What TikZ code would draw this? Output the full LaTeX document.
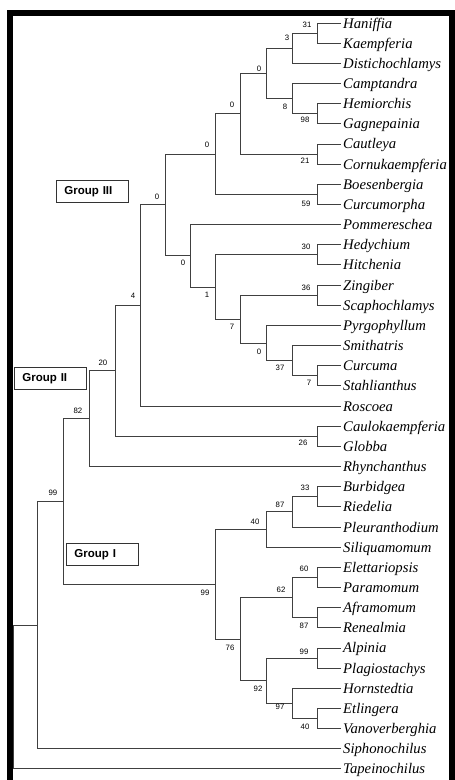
\documentclass[tikz,border=0pt]{standalone}
\usepackage{fontspec}
\setmainfont{Liberation Serif}
\newfontfamily\lsans{Liberation Sans}
\begin{document}
\begin{tikzpicture}[x=1pt,y=-1pt,
  leaf/.style={anchor=west, font=\fontsize{14.7}{16}\selectfont\itshape, inner xsep=2pt, inner ysep=0pt, text height=10pt, text depth=0pt},
  bs/.style={font=\lsans\fontsize{7.8}{8}\selectfont, inner sep=0pt, text=black},
  br/.style={draw=black!75, line width=0.9pt},
  grp/.style={draw=black!80, line width=0.9pt, fill=white, anchor=north west, minimum height=22pt, text width=56pt, align=left, inner xsep=8pt, font=\lsans\bfseries\fontsize{11.5}{12}\selectfont}]
\useasboundingbox (0,0) rectangle (455,780);
% leaves
\foreach \i/\t in {1/Haniffia,2/Kaempferia,3/Distichochlamys,4/Camptandra,5/Hemiorchis,6/Gagnepainia,7/Cautleya,8/Cornukaempferia,9/Boesenbergia,10/Curcumorpha,11/Pommereschea,12/Hedychium,13/Hitchenia,14/Zingiber,15/Scaphochlamys,16/Pyrgophyllum,17/Smithatris,18/Curcuma,19/Stahlianthus,20/Roscoea,21/Caulokaempferia,22/Globba,23/Rhynchanthus,24/Burbidgea,25/Riedelia,26/Pleuranthodium,27/Siliquamomum,28/Elettariopsis,29/Paramomum,30/Aframomum,31/Renealmia,32/Alpinia,33/Plagiostachys,34/Hornstedtia,35/Etlingera,36/Vanoverberghia,37/Siphonochilus,38/Tapeinochilus}
  \node[leaf] (L\i) at (341,{23+(\i-1)*20.16}) {\t};
% internal nodes
\coordinate (a1) at (317,33.08);
\coordinate (a2) at (292,48.2);
\coordinate (a3) at (317,113.72);
\coordinate (a4) at (292,98.6);
\coordinate (a5) at (266,73.4);
\coordinate (a6) at (317,154.04);
\coordinate (nb) at (240,113.72);
\coordinate (a7) at (317,194.36);
\coordinate (nc) at (215,154.04);
\coordinate (ng) at (317,254.84);
\coordinate (ni) at (317,295.16);
\coordinate (nl) at (317,375.8);
\coordinate (nk) at (292,360.68);
\coordinate (nj) at (266,343.04);
\coordinate (nh) at (240,319.1);
\coordinate (nf) at (215,286.97);
\coordinate (ne) at (190,255.79);
\coordinate (nd) at (165,204.9);
\coordinate (nm) at (140,305.47);
\coordinate (nn) at (317,436.28);
\coordinate (no) at (115,370.9);
\coordinate (np) at (89,418.7);
\coordinate (nr) at (317,496.76);
\coordinate (ns) at (292,511.88);
\coordinate (nt) at (266,529.52);
\coordinate (nv) at (317,577.4);
\coordinate (nx) at (317,617.72);
\coordinate (nw) at (292,597.56);
\coordinate (nz) at (317,658.04);
\coordinate (ncc) at (317,718.52);
\coordinate (nbb) at (292,703.4);
\coordinate (naa) at (266,680.72);
\coordinate (ny) at (240,639.14);
\coordinate (nu) at (215,584.33);
\coordinate (nq) at (63,501.5);
\coordinate (r2) at (37,625.13);
\coordinate (R) at (13,697);
% branches
\draw[br] (a1) |- (L1.west);  \draw[br] (a1) |- (L2.west);
\draw[br] (a2) |- (a1);       \draw[br] (a2) |- (L3.west);
\draw[br] (a3) |- (L5.west);  \draw[br] (a3) |- (L6.west);
\draw[br] (a4) |- (L4.west);  \draw[br] (a4) |- (a3);
\draw[br] (a5) |- (a2);       \draw[br] (a5) |- (a4);
\draw[br] (a6) |- (L7.west);  \draw[br] (a6) |- (L8.west);
\draw[br] (nb) |- (a5);       \draw[br] (nb) |- (a6);
\draw[br] (a7) |- (L9.west);  \draw[br] (a7) |- (L10.west);
\draw[br] (nc) |- (nb);       \draw[br] (nc) |- (a7);
\draw[br] (ng) |- (L12.west); \draw[br] (ng) |- (L13.west);
\draw[br] (ni) |- (L14.west); \draw[br] (ni) |- (L15.west);
\draw[br] (nl) |- (L18.west); \draw[br] (nl) |- (L19.west);
\draw[br] (nk) |- (L17.west); \draw[br] (nk) |- (nl);
\draw[br] (nj) |- (L16.west); \draw[br] (nj) |- (nk);
\draw[br] (nh) |- (ni);       \draw[br] (nh) |- (nj);
\draw[br] (nf) |- (ng);       \draw[br] (nf) |- (nh);
\draw[br] (ne) |- (L11.west); \draw[br] (ne) |- (nf);
\draw[br] (nd) |- (nc);       \draw[br] (nd) |- (ne);
\draw[br] (nm) |- (nd);       \draw[br] (nm) |- (L20.west);
\draw[br] (nn) |- (L21.west); \draw[br] (nn) |- (L22.west);
\draw[br] (no) |- (nm);       \draw[br] (no) |- (nn);
\draw[br] (np) |- (no);       \draw[br] (np) |- (L23.west);
\draw[br] (nr) |- (L24.west); \draw[br] (nr) |- (L25.west);
\draw[br] (ns) |- (nr);       \draw[br] (ns) |- (L26.west);
\draw[br] (nt) |- (ns);       \draw[br] (nt) |- (L27.west);
\draw[br] (nv) |- (L28.west); \draw[br] (nv) |- (L29.west);
\draw[br] (nx) |- (L30.west); \draw[br] (nx) |- (L31.west);
\draw[br] (nw) |- (nv);       \draw[br] (nw) |- (nx);
\draw[br] (nz) |- (L32.west); \draw[br] (nz) |- (L33.west);
\draw[br] (ncc) |- (L35.west); \draw[br] (ncc) |- (L36.west);
\draw[br] (nbb) |- (L34.west); \draw[br] (nbb) |- (ncc);
\draw[br] (naa) |- (nz);      \draw[br] (naa) |- (nbb);
\draw[br] (ny) |- (nw);       \draw[br] (ny) |- (naa);
\draw[br] (nu) |- (nt);       \draw[br] (nu) |- (ny);
\draw[br] (nq) |- (np);       \draw[br] (nq) |- (nu);
\draw[br] (r2) |- (nq);       \draw[br] (r2) |- (L37.west);
\draw[br] (R) |- (r2);        \draw[br] (R) |- (L38.west);
% bootstrap values
\node[bs] (b1) at (307,25) {31};
\node[bs] (b2) at (287,38) {3};
\node[bs] (b3) at (259,69) {0};
\node[bs] (b4) at (285,107) {8};
\node[bs] (b5) at (305,120) {98};
\node[bs] (b6) at (232,105) {0};
\node[bs] (b7) at (305,161) {21};
\node[bs] (b8) at (306,204) {59};
\node[bs] (b9) at (207,145) {0};
\node[bs] (b10) at (157,197) {0};
\node[bs] (b11) at (183,263) {0};
\node[bs] (b12) at (207,295) {1};
\node[bs] (b13) at (306,247) {30};
\node[bs] (b14) at (232,327) {7};
\node[bs] (b15) at (306,288) {36};
\node[bs] (b16) at (259,352) {0};
\node[bs] (b17) at (280,368) {37};
\node[bs] (b18) at (309,383) {7};
\node[bs] (b19) at (133,296) {4};
\node[bs] (b20) at (303,443) {26};
\node[bs] (b21) at (103,363) {20};
\node[bs] (b22) at (78,411) {82};
\node[bs] (b23) at (53,493) {99};
\node[bs] (b24) at (305,488) {33};
\node[bs] (b25) at (280,505) {87};
\node[bs] (b26) at (255,522) {40};
\node[bs] (b27) at (205,593) {99};
\node[bs] (b28) at (304,569) {60};
\node[bs] (b29) at (281,590) {62};
\node[bs] (b30) at (304,626) {87};
\node[bs] (b31) at (230,648) {76};
\node[bs] (b32) at (304,652) {99};
\node[bs] (b33) at (258,689) {92};
\node[bs] (b34) at (280,707) {97};
\node[bs] (b35) at (305,727) {40};
% group boxes
\node[grp] (g3) at (56,180) {Group III};
\node[grp] (g2) at (14,367) {Group II};
\node[grp] (g1) at (66,543) {Group I};
% frame
\fill[black] (7,10) rectangle (455,16);
\fill[black] (7,10) rectangle (13,780);
\fill[black] (449,10) rectangle (455,780);
\end{tikzpicture}
\end{document}
